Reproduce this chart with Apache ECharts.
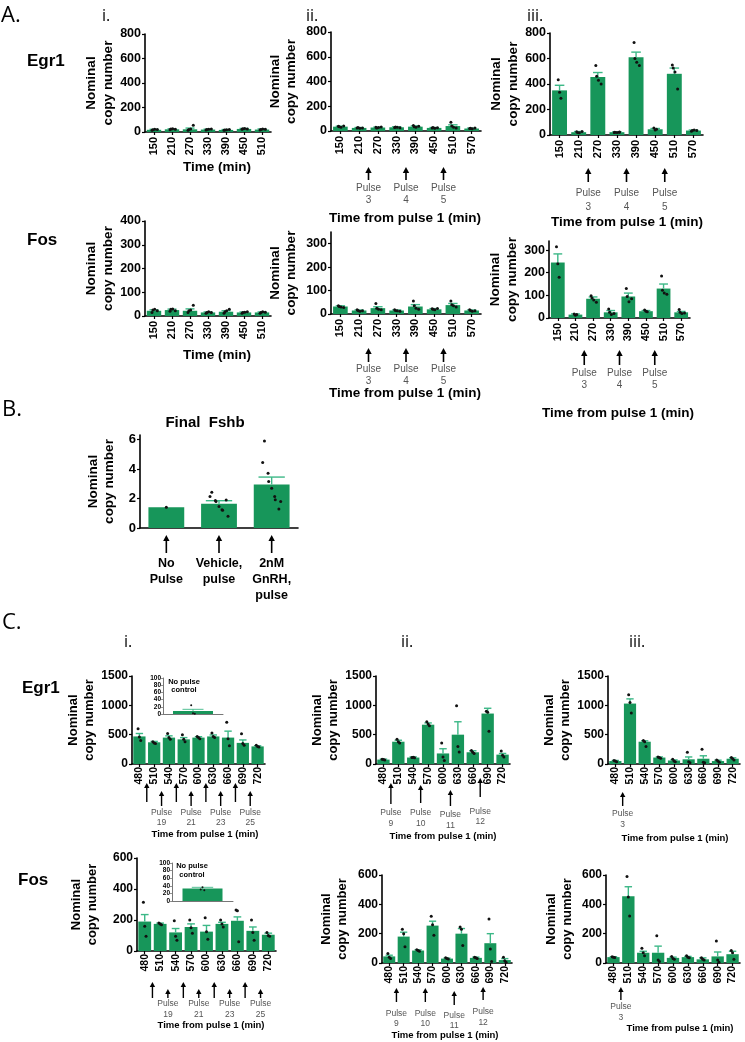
<!DOCTYPE html>
<html><head><meta charset="utf-8">
<script src="https://cdn.jsdelivr.net/npm/echarts@6/dist/echarts.min.js"></script>
<style>html,body{margin:0;padding:0;background:#fff}#c{width:745px;height:1042px}</style>
</head><body><div id="c"></div>
<script>
// ================= DATA =================
const timesA_i = ['150','210','270','330','390','450','510'];
const timesA = ['150','210','270','330','390','450','510','570'];
const timesC = ['480','510','540','570','600','630','660','690','720'];
const catsB = ['No\nPulse','Vehicle,\npulse','2nM\nGnRH,\npulse'];
const catsInset = ['No pulse control'];

const ticksA800 = [0,200,400,600,800];
const ticksA400 = [0,100,200,300,400];
const ticksA300 = [0,100,200,300];
const ticksB = [0,2,4,6];
const ticksC1500 = [0,500,1000,1500];
const ticksC600 = [0,200,400,600];
const ticksInset = [0,20,40,60,80,100];

const pulseA_times = [240,360,480];
const pulseA_labels = ['Pulse\n3','Pulse\n4','Pulse\n5'];
const pulseCi_times = [495,525,555,585,615,645,675,705];
const pulseCi_labels = ['','Pulse\n19','','Pulse\n21','','Pulse\n23','','Pulse\n25'];
const pulseCii_times = [495,555,615,675];
const pulseCii_labels = ['Pulse\n9','Pulse\n10','Pulse\n11','Pulse\n12'];
const pulseCiii_times = [495];
const pulseCiii_labels = ['Pulse\n3'];

// A.i
const Ai_egr1_mean = [18,22,22,20,17,25,20];
const Ai_egr1_sem  = [4,4,10,3,3,4,5];
const Ai_egr1_pts  = [[14,18,22,20],[18,24,26,22],[15,20,25,55],[16,20,22,24],[14,16,18,20],[22,26,28,24],[16,20,24,22]];
const Ai_fos_mean = [22,25,22,15,18,15,15];
const Ai_fos_sem  = [4,4,8,2,4,2,2];
const Ai_fos_pts  = [[15,25,28,22],[20,28,30,22],[15,22,25,45],[12,15,18,15],[12,18,22,28],[12,15,16,18],[12,15,18,16]];
// A.ii
const Aii_egr1_mean = [35,25,28,30,35,25,40,20];
const Aii_egr1_sem  = [4,3,3,4,6,3,10,3];
const Aii_egr1_pts  = [[38,35,30,40],[25,28,22,24],[30,25,28,32],[28,32,30,26],[45,35,30,38],[25,28,22,26],[70,40,30,25],[20,22,18,24]];
const Aii_fos_mean = [32,15,25,15,32,20,38,15];
const Aii_fos_sem  = [3,2,6,2,8,3,7,2];
const Aii_fos_pts  = [[35,32,30,28],[18,15,12,14],[45,25,20,18],[18,15,14,12],[55,35,25,20],[22,20,18,24],[55,40,35,30],[18,15,12,14]];
// A.iii
const Aiii_egr1_mean = [350,22,455,22,610,45,480,35];
const Aiii_egr1_sem  = [40,5,35,3,40,6,45,4];
const Aiii_egr1_pts  = [[433,336,289],[25,20,18,28],[545,460,430,400],[20,22,20,22,24],[725,600,570,545],[55,40,45],[550,525,495,360],[30,35,40,35]];
const Aiii_fos_mean = [245,15,85,25,95,30,130,25];
const Aiii_fos_sem  = [38,3,8,8,15,3,20,4];
const Aiii_fos_pts  = [[315,240,180],[18,12,15],[98,88,80,70],[40,25,15,20],[130,95,72,85],[35,30,28],[186,123,110,105],[38,25,20,22]];
// B
const B_mean = [1.4,1.65,2.95];
const B_sem  = [0,0.2,0.5];
const B_pts  = [[1.4],[2.43,2.13,1.87,1.8,1.46,1.24,1.2,0.79,1.9],[5.9,4.43,3.71,3.15,2.7,2.13,1.91,1.8,1.28]];
// C row Egr1
const Ci_egr1_mean = [470,370,450,420,450,470,450,360,300];
const Ci_egr1_sem  = [50,15,30,30,15,25,110,50,10];
const Ci_egr1_pts  = [[600,460,400],[380,360,350],[520,450,420],[500,420,380],[470,450,430],[530,470,450],[710,430,310],[515,350,320],[320,300,290]];
const Cii_egr1_mean = [75,380,110,670,180,500,200,860,160];
const Cii_egr1_sem  = [8,25,10,30,80,220,25,90,20];
const Cii_egr1_pts  = [[80,75,70],[420,380,360],[110,115,105],[720,680,650],[360,120,60],[995,300,205],[230,200,180],[900,880,560],[220,150,120]];
const Ciii_egr1_mean = [50,1030,380,110,60,80,90,50,90];
const Ciii_egr1_sem  = [10,80,15,10,10,40,50,15,15];
const Ciii_egr1_pts  = [[60,50,40],[1180,1050,870],[400,380,300],[120,110,100],[80,50,40],[200,40,20],[250,30,20],[70,50,30],[110,90,70]];
// C row Fos
const Ci_fos_mean = [190,175,120,155,125,175,195,130,105];
const Ci_fos_sem  = [45,5,25,20,40,10,25,25,10];
const Ci_fos_pts  = [[315,160,95],[180,175,170],[195,95,70],[200,150,115],[215,124,76],[200,175,155],[265,260,60],[200,120,70],[120,100,95]];
const Cii_fos_mean = [45,180,85,255,30,200,35,135,20];
const Cii_fos_sem  = [8,30,5,30,3,35,5,65,10];
const Cii_fos_pts  = [[65,40,30],[230,200,110],[90,85,80],[318,260,190],[35,30,28],[245,230,120],[40,35,30],[300,95,10],[40,15,5]];
const Ciii_fos_mean = [40,455,70,70,35,40,25,45,60];
const Ciii_fos_sem  = [3,65,10,45,5,5,10,30,20];
const Ciii_fos_pts  = [[42,40,38],[590,450,320],[100,70,50],[185,20,10],[45,30,25],[50,40,35],[35,25,20],[150,20,5],[85,70,25]];
// insets (no pulse control)
const Ci_egr1_inset_mean = [8];
const Ci_egr1_inset_sem  = [5];
const Ci_egr1_inset_pts  = [[24,2,1]];
const Ci_fos_inset_mean = [33];
const Ci_fos_inset_sem  = [3];
const Ci_fos_inset_pts  = [[30,36,28]];

// ================= STYLE / LAYOUT =================
const FONT = "'Liberation Sans', Arial, Helvetica, sans-serif";
const BAR = '#17965a', ERR = '#3cb887';
const fA = {yl:12.5, xl:11, yn:13.5, pl:10, plh:12, pc:'#555'};
const fC = {yl:12, xl:10.5, yn:13, pl:8.5, plh:10.5, pc:'#555'};
const fB = {yl:13, xl:12.5, yn:13.5};
const fI = {yl:6.5};

function pulseIdx(cats, times){
  return times.map(t => { for (let i=0;i<cats.length-1;i++){ if (+cats[i] < t && t < +cats[i+1]) return [i,i+1]; } return [0,0]; });
}

const panels = [
 {grid:{left:145,top:34,width:126,height:98}, cats:timesA_i, max:800, ticks:ticksA800, mean:Ai_egr1_mean, sem:Ai_egr1_sem, pts:Ai_egr1_pts, f:fA, nameGap:25, gap:'20%', xm:5},
 {grid:{left:145,top:221,width:126,height:95}, cats:timesA_i, max:400, ticks:ticksA400, mean:Ai_fos_mean, sem:Ai_fos_sem, pts:Ai_fos_pts, f:fA, nameGap:27, gap:'20%', xm:5},
 {grid:{left:331,top:32,width:150,height:99}, cats:timesA, max:800, ticks:ticksA800, mean:Aii_egr1_mean, sem:Aii_egr1_sem, pts:Aii_egr1_pts, f:fA, nameGap:31, gap:'22%', xm:5,
   pulses:{idx:pulseIdx(timesA,pulseA_times), labels:pulseA_labels, ar:[[167,180]], ly:[194]}},
 {grid:{left:331,top:232,width:150,height:82}, cats:timesA, max:350, ticks:ticksA300, mean:Aii_fos_mean, sem:Aii_fos_sem, pts:Aii_fos_pts, f:fA, nameGap:31, gap:'22%', xm:5,
   pulses:{idx:pulseIdx(timesA,pulseA_times), labels:pulseA_labels, ar:[[348,362]], ly:[375]}},
 {grid:{left:550,top:33,width:153,height:102}, cats:timesA, max:800, ticks:ticksA800, mean:Aiii_egr1_mean, sem:Aiii_egr1_sem, pts:Aiii_egr1_pts, f:fA, nameGap:27, gap:'22%', xm:5,
   pulses:{idx:pulseIdx(timesA,pulseA_times), labels:pulseA_labels, ar:[[168,182]], ly:[200], plh:14}},
 {grid:{left:549,top:241,width:141,height:77}, cats:timesA, max:340, ticks:ticksA300, mean:Aiii_fos_mean, sem:Aiii_fos_sem, pts:Aiii_fos_pts, f:fA, nameGap:26, gap:'22%', xm:5,
   pulses:{idx:pulseIdx(timesA,pulseA_times), labels:pulseA_labels, ar:[[350,365]], ly:[379]}},
 {grid:{left:140,top:435,width:158,height:93}, cats:catsB, max:6.3, ticks:ticksB, mean:B_mean, sem:B_sem, pts:B_pts, f:fB, nameGap:22, gap:'32%', xm:28, xrot:0, xlh:16, noXTick:true,
   pulses:{idx:catsB.map((c,i)=>[i,i]), labels:['','',''], ar:[[535,553]], ly:[0]}},
 {grid:{left:132,top:676,width:133,height:88}, cats:timesC, max:1500, ticks:ticksC1500, mean:Ci_egr1_mean, sem:Ci_egr1_sem, pts:Ci_egr1_pts, f:fC, nameGap:35, gap:'17%', xm:3,
   pulses:{idx:pulseIdx(timesC,pulseCi_times), labels:pulseCi_labels, ar:[[783,802],[791,806]], ly:[817.5]}},
 {grid:{left:376,top:676,width:134,height:88}, cats:timesC, max:1500, ticks:ticksC1500, mean:Cii_egr1_mean, sem:Cii_egr1_sem, pts:Cii_egr1_pts, f:fC, nameGap:31, gap:'17%', xm:3,
   pulses:{idx:pulseIdx(timesC,pulseCii_times), labels:pulseCii_labels, ar:[[783,804],[785,803],[790,806],[778,797]], ly:[818,818,820,816.5]}},
 {grid:{left:608,top:676,width:132,height:88}, cats:timesC, max:1500, ticks:ticksC1500, mean:Ciii_egr1_mean, sem:Ciii_egr1_sem, pts:Ciii_egr1_pts, f:fC, nameGap:30, gap:'17%', xm:3,
   pulses:{idx:pulseIdx(timesC,pulseCiii_times), labels:pulseCiii_labels, ar:[[792,806]], ly:[819]}},
 {grid:{left:137,top:858,width:139,height:93}, cats:timesC, max:600, ticks:ticksC600, mean:Ci_fos_mean, sem:Ci_fos_sem, pts:Ci_fos_pts, f:fC, nameGap:37, gap:'17%', xm:3,
   pulses:{idx:pulseIdx(timesC,pulseCi_times), labels:pulseCi_labels, ar:[[982,998],[989,998]], ly:[1009]}},
 {grid:{left:382,top:875,width:130,height:88}, cats:timesC, max:600, ticks:ticksC600, mean:Cii_fos_mean, sem:Cii_fos_sem, pts:Cii_fos_pts, f:fC, nameGap:32, gap:'17%', xm:3,
   pulses:{idx:pulseIdx(timesC,pulseCii_times), labels:pulseCii_labels, ar:[[988,1002],[988,1002],[991,1005],[987,1000]], ly:[1018.5,1018.5,1020.5,1017]}},
 {grid:{left:606,top:875,width:134,height:88}, cats:timesC, max:600, ticks:ticksC600, mean:Ciii_fos_mean, sem:Ciii_fos_sem, pts:Ciii_fos_pts, f:fC, nameGap:31, gap:'17%', xm:3,
   pulses:{idx:pulseIdx(timesC,pulseCiii_times), labels:pulseCiii_labels, ar:[[987,1000]], ly:[1012]}},
 {grid:{left:163,top:678,width:60,height:36}, cats:catsInset, max:100, ticks:ticksInset, mean:Ci_egr1_inset_mean, sem:Ci_egr1_inset_sem, pts:Ci_egr1_inset_pts, f:fI, inset:true, barWidth:40},
 {grid:{left:172,top:863,width:61,height:38}, cats:catsInset, max:100, ticks:ticksInset, mean:Ci_fos_inset_mean, sem:Ci_fos_inset_sem, pts:Ci_fos_inset_pts, f:fI, inset:true, barWidth:40}
];

// ================= RENDERERS =================
function errRender(p){
  return function(params, api){
    const i = api.value(0), m = api.value(1), s = api.value(2);
    if (!s) return null;
    const a = api.coord([i,m]), b = api.coord([i,m+s]);
    const bw = api.size([1,0])[0] * (p.inset ? 0.35 : 0.5);
    const lw = p.inset ? 0.9 : 1.4;
    return {type:'group', children:[
      {type:'line', shape:{x1:a[0],y1:a[1],x2:b[0],y2:b[1]}, style:{stroke:ERR,lineWidth:lw}},
      {type:'line', shape:{x1:b[0]-bw/2,y1:b[1],x2:b[0]+bw/2,y2:b[1]}, style:{stroke:ERR,lineWidth:lw}}
    ]};
  };
}
function ptRender(p){
  return function(params, api){
    const i = api.value(0), v = api.value(1), j = api.value(2), n = api.value(3);
    const c = api.coord([i,v]);
    const spread = p.inset ? 3 : (p.cats.length === 3 ? 3 : 2.2);
    const dx = (j - (n-1)/2) * spread * (j % 2 ? 1 : 0.6);
    return {type:'circle', shape:{cx:c[0]+dx, cy:c[1], r:p.inset ? 1 : 1.5}, style:{fill:'#111'}};
  };
}
function arrowRender(p){
  const P = p.pulses, big = p.f === fA || p.f === fB;
  return function(params, api){
    const k = params.dataIndex;
    const x = (api.coord([api.value(0),0])[0] + api.coord([api.value(2),0])[0]) / 2;
    let ar;
    if (P.ar.length === 2 && P.labels.length === 8) ar = P.labels[k] ? P.ar[1] : P.ar[0];
    else ar = P.ar[k] || P.ar[0];
    const hw = big ? 3.2 : 2.7, hh = big ? 6 : 5;
    const children = [
      {type:'line', shape:{x1:x,y1:ar[0]+hh-1,x2:x,y2:ar[1]}, style:{stroke:'#000', lineWidth:big?1.6:1.4}},
      {type:'polygon', shape:{points:[[x,ar[0]],[x-hw,ar[0]+hh],[x+hw,ar[0]+hh]]}, style:{fill:'#000'}}
    ];
    const lbl = P.labels[k];
    if (lbl) {
      const ly = P.ly[k] !== undefined ? P.ly[k] : P.ly[0];
      children.push({type:'text', x:x, y:ly, style:{text:lbl, align:'center', verticalAlign:'middle', fontSize:p.f.pl, lineHeight:P.plh || p.f.plh, fill:p.f.pc, fontFamily:FONT}});
    }
    return {type:'group', children};
  };
}

// ================= BUILD =================
const grids=[], xAxes=[], yAxes=[], series=[];
panels.forEach((p, gi) => {
  grids.push(Object.assign({}, p.grid));
  const axColor = p.inset ? '#777' : '#000';
  const axW = p.inset ? 1 : 1.6;
  xAxes.push({type:'category', gridIndex:gi, data:p.cats,
    axisLine:{lineStyle:{color:axColor, width:axW}},
    axisTick:{show:!p.inset && !p.noXTick, alignWithLabel:true, length:3, lineStyle:{color:'#000', width:1.2}},
    axisLabel: p.inset ? {show:false} : {rotate: p.xrot !== undefined ? p.xrot : 90, margin:p.xm, interval:0,
      fontSize:p.f.xl, fontWeight:'bold', color:'#000', fontFamily:FONT, lineHeight:p.xlh || undefined},
    splitLine:{show:false}
  });
  yAxes.push({type:'value', gridIndex:gi, min:0, max:p.max,
    axisLine:{show:true, lineStyle:{color:axColor, width:axW}},
    axisTick:{show:true, length:p.inset?2:3, customValues:p.ticks, lineStyle:{color:axColor, width:p.inset?0.8:1.2}},
    axisLabel:{customValues:p.ticks, formatter:(v)=>String(v), showMinLabel:true, showMaxLabel:true, hideOverlap:false,
      fontSize:p.f.yl, fontWeight:'bold', color:'#000', fontFamily:FONT, margin:p.inset?2:4, lineHeight:p.inset?6:undefined},
    splitLine:{show:false},
    name: p.inset ? '' : 'Nominal\ncopy number', nameLocation:'middle', nameGap:p.nameGap || 0,
    nameTextStyle:{fontSize:p.f.yn, fontWeight:'bold', lineHeight:(p.f.yn||10)+3, color:'#000', fontFamily:FONT}
  });
  series.push({type:'bar', xAxisIndex:gi, yAxisIndex:gi, data:p.mean, barCategoryGap:p.gap, barWidth:p.barWidth,
    itemStyle:{color:BAR}, silent:true, z:2 + (p.inset?10:0)});
  series.push({type:'custom', xAxisIndex:gi, yAxisIndex:gi, clip:false, z:3 + (p.inset?10:0), silent:true,
    renderItem:errRender(p), encode:{x:0, y:1}, data:p.mean.map((m,i)=>[i,m,p.sem[i]])});
  const pd = [];
  p.pts.forEach((arr,i) => arr.forEach((v,j) => pd.push([i,v,j,arr.length])));
  series.push({type:'custom', xAxisIndex:gi, yAxisIndex:gi, clip:false, z:4 + (p.inset?10:0), silent:true,
    renderItem:ptRender(p), encode:{x:0, y:1}, data:pd});
  if (p.pulses) {
    series.push({type:'custom', xAxisIndex:gi, yAxisIndex:gi, clip:false, z:5, silent:true,
      renderItem:arrowRender(p), encode:{x:0, y:1}, data:p.pulses.idx.map(ab => [ab[0], 0, ab[1]])});
  }
});

function T(text, x, y, size, opts){
  opts = opts || {};
  return {type:'text', x:x, y:y, silent:true, z:20, style:{text:text, fontSize:size, fontWeight:opts.w || 'normal',
    fontFamily:opts.ff || FONT, fill:opts.c || '#000', align:opts.a || 'center', verticalAlign:'middle', lineHeight:opts.lh}};
}
const LET = "'Open Sans', 'Liberation Sans', sans-serif";
const graphic = [
  T('A.', 1, 16, 22, {a:'left', ff:LET}),
  T('B.', 2, 410, 22, {a:'left', ff:LET}),
  T('C.', 2, 623, 22, {a:'left', ff:LET}),
  T('i.', 102, 16, 16, {a:'left', ff:LET}),
  T('ii.', 306, 16, 16, {a:'left', ff:LET}),
  T('iii.', 527, 16, 16, {a:'left', ff:LET}),
  T('i.', 124, 642, 16, {a:'left', ff:LET}),
  T('ii.', 401, 642, 16, {a:'left', ff:LET}),
  T('iii.', 629, 642, 16, {a:'left', ff:LET}),
  T('Egr1', 27, 61, 17, {a:'left', w:'bold'}),
  T('Fos', 27, 240, 17, {a:'left', w:'bold'}),
  T('Egr1', 22, 688, 17, {a:'left', w:'bold'}),
  T('Fos', 18, 880, 17, {a:'left', w:'bold'}),
  T('Final  Fshb', 205, 423, 15, {w:'bold'}),
  T('Time (min)', 217, 167, 13.5, {w:'bold'}),
  T('Time (min)', 217, 355, 13.5, {w:'bold'}),
  T('Time from pulse 1 (min)', 405, 218, 13.5, {w:'bold'}),
  T('Time from pulse 1 (min)', 405, 393, 13.5, {w:'bold'}),
  T('Time from pulse 1 (min)', 627, 222, 13.5, {w:'bold'}),
  T('Time from pulse 1 (min)', 618, 413, 13.5, {w:'bold'}),
  T('Time from pulse 1 (min)', 205, 834, 9.5, {w:'bold'}),
  T('Time from pulse 1 (min)', 443, 836, 9.5, {w:'bold'}),
  T('Time from pulse 1 (min)', 675, 838, 9.5, {w:'bold'}),
  T('Time from pulse 1 (min)', 211, 1025, 9.5, {w:'bold'}),
  T('Time from pulse 1 (min)', 445, 1035, 9.5, {w:'bold'}),
  T('Time from pulse 1 (min)', 680, 1028, 9.5, {w:'bold'}),
  T('No pulse\ncontrol', 184, 686, 7.5, {w:'bold', lh:8.5}),
  T('No pulse\ncontrol', 192, 870, 7.5, {w:'bold', lh:9})
];

const chart = echarts.init(document.getElementById('c'), null, {renderer:'canvas', width:745, height:1042});
chart.setOption({
  animation:false,
  backgroundColor:'#fff',
  textStyle:{fontFamily:FONT},
  grid:grids, xAxis:xAxes, yAxis:yAxes, series:series, graphic:graphic
});
</script></body></html>
